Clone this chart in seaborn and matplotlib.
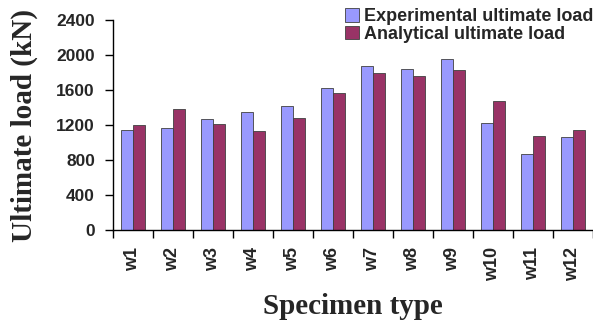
import matplotlib
matplotlib.use("Agg")
import matplotlib.pyplot as plt
import seaborn as sns
import pandas as pd
import numpy as np
from matplotlib.patches import Patch

categories = ["w1", "w2", "w3", "w4", "w5", "w6", "w7", "w8", "w9", "w10", "w11", "w12"]
experimental = [1143, 1162, 1269, 1345, 1421, 1623, 1870, 1844, 1950, 1219, 869, 1063]
analytical = [1196, 1387, 1211, 1131, 1276, 1570, 1790, 1760, 1829, 1474, 1078, 1143]
series_names = ["Experimental ultimate load", "Analytical ultimate load"]
yticks = [0, 400, 800, 1200, 1600, 2000, 2400]
colors = ["#9999FF", "#993366"]

df = pd.DataFrame({
    "Specimen": categories * 2,
    "Load": experimental + analytical,
    "Series": [series_names[0]] * len(categories) + [series_names[1]] * len(categories),
})

sns.set_style("white")
plt.rcParams["font.family"] = ["Liberation Sans", "DejaVu Sans"]

fig = plt.figure(figsize=(5.93, 3.29), dpi=100)
ax = fig.add_axes([113 / 593, 1 - 230 / 329, 480 / 593, 210 / 329])

sns.barplot(data=df, x="Specimen", y="Load", hue="Series", palette=colors,
            width=0.6, edgecolor="#404040", linewidth=0.6, ax=ax, legend=False,
            saturation=1)

ax.set_xlim(-0.5, len(categories) - 0.5)
ax.set_ylim(0, 2400)
ax.set_yticks(yticks)
ax.set_yticklabels([str(t) for t in yticks], fontsize=12.5, fontweight="bold")

# category boundary ticks (major) and centered labels (minor)
ax.set_xticks(np.arange(-0.5, len(categories), 1.0))
ax.set_xticklabels([])
ax.set_xticks(np.arange(len(categories)), minor=True)
ax.set_xticklabels(categories, minor=True, rotation=90, fontsize=13, fontweight="bold")
ax.tick_params(axis="x", which="major", length=6, width=1, direction="out", bottom=True, color="black")
ax.tick_params(axis="x", which="minor", length=0, pad=12)
ax.tick_params(axis="y", length=6, width=1, direction="out", left=True, color="black", pad=7)

for s in ["top", "right"]:
    ax.spines[s].set_visible(False)
for s in ["left", "bottom"]:
    ax.spines[s].set_color("black")
    ax.spines[s].set_linewidth(1.0)

ax.set_xlabel("Specimen type", family=["Liberation Serif", "DejaVu Serif"], fontsize=21,
              fontweight="bold", labelpad=9)
ax.set_ylabel("Ultimate load (kN)", family=["Liberation Serif", "DejaVu Serif"], fontsize=21,
              fontweight="bold", labelpad=13)

handles = [Patch(facecolor=c, edgecolor="#404040", linewidth=0.6) for c in colors]
fig.legend(handles, series_names, loc="upper right", bbox_to_anchor=(1.019, 1.008),
           frameon=False, prop={"weight": "bold", "size": 13},
           handlelength=0.75, handleheight=0.75, handletextpad=0.3, labelspacing=0.05,
           borderaxespad=0.2)

fig.savefig("out.png", dpi=100)
